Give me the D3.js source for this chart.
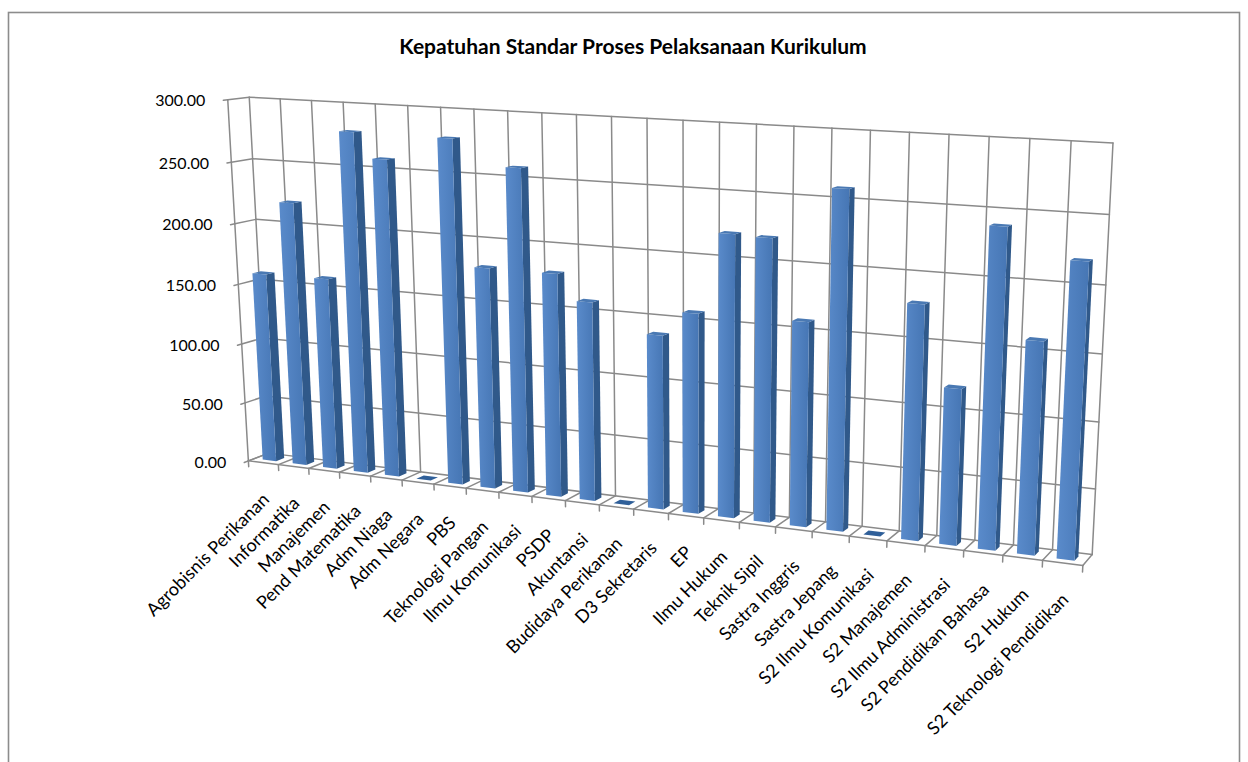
<!DOCTYPE html>
<html>
<head>
<meta charset="utf-8">
<script src="https://cdn.jsdelivr.net/npm/d3@7"></script>
<style>
  html, body { margin: 0; padding: 0; background: #fff; }
  svg { display: block; }
  text { font-family: Lato, "Open Sans", "DejaVu Sans", sans-serif; fill: #000; }
</style>
</head>
<body>
<svg id="chart" width="1248" height="762"></svg>
<script>
// ---- data -----------------------------------------------------------------
const title = "Kepatuhan Standar Proses Pelaksanaan Kurikulum";

const categories = [
  "Agrobisnis Perikanan", "Informatika", "Manajemen", "Pend Matematika",
  "Adm Niaga", "Adm Negara", "PBS", "Teknologi Pangan", "Ilmu Komunikasi",
  "PSDP", "Akuntansi", "Budidaya Perikanan", "D3 Sekretaris", "EP",
  "Ilmu Hukum", "Teknik Sipil", "Sastra Inggris", "Sastra Jepang",
  "S2 Ilmu Komunikasi", "S2 Manajemen", "S2 Ilmu Administrasi",
  "S2 Pendidikan Bahasa", "S2 Hukum", "S2 Teknologi Pendidikan"
];

const values = [
  158.5, 219, 159, 279, 259, 0, 278.5, 179, 259,
  179, 159, 0, 138, 157.5, 220, 219, 158.5, 259,
  0, 179, 119, 239.5, 159.5, 219
];

const valueTicks = [0, 50, 100, 150, 200, 250, 300];
const tickFormat = d3.format(".2f");

// ---- camera ---------------------------------------------------------------
// The plot box is the unit cube (x: categories, y: value, z: front -> back).
// A perspective camera is calibrated from where the box corners sit on the page.
const boxCorners = [
  { w: [0, 1, 0], s: [228, 100] },
  { w: [0, 1, 1], s: [249, 97] },
  { w: [1, 1, 1], s: [1113, 143] },
  { w: [0, 0, 0], s: [248, 461] },
  { w: [0, 0, 1], s: [269, 453] },
  { w: [1, 0, 1], s: [1092, 555] },
  { w: [1, 0, 0], s: [1083, 565] }
];

function solveLinear(A, b) {
  const n = b.length;
  const M = A.map((row, i) => row.concat([b[i]]));
  for (let c = 0; c < n; c++) {
    let piv = c;
    for (let r = c + 1; r < n; r++) if (Math.abs(M[r][c]) > Math.abs(M[piv][c])) piv = r;
    [M[c], M[piv]] = [M[piv], M[c]];
    for (let r = 0; r < n; r++) {
      if (r === c) continue;
      const f = M[r][c] / M[c][c];
      for (let k = c; k <= n; k++) M[r][k] -= f * M[c][k];
    }
  }
  return M.map((row, i) => row[n] / row[i]);
}

function calibrate(points) {
  const cx = 640, cy = 380, k = 500;
  const rows = [], rhs = [];
  points.forEach(({ w: [X, Y, Z], s: [su, sv] }) => {
    const u = (su - cx) / k, v = (sv - cy) / k;
    rows.push([X, Y, Z, 1, 0, 0, 0, 0, -u * X, -u * Y, -u * Z]); rhs.push(u);
    rows.push([0, 0, 0, 0, X, Y, Z, 1, -v * X, -v * Y, -v * Z]); rhs.push(v);
  });
  const m = 11;
  const N = Array.from({ length: m }, () => new Array(m).fill(0));
  const r = new Array(m).fill(0);
  rows.forEach((row, i) => {
    for (let a = 0; a < m; a++) {
      r[a] += row[a] * rhs[i];
      for (let c = 0; c < m; c++) N[a][c] += row[a] * row[c];
    }
  });
  const p = solveLinear(N, r);
  return (X, Y, Z) => {
    const w = p[8] * X + p[9] * Y + p[10] * Z + 1;
    return [
      (p[0] * X + p[1] * Y + p[2] * Z + p[3]) / w * k + cx,
      (p[4] * X + p[5] * Y + p[6] * Z + p[7]) / w * k + cy
    ];
  };
}

const camera = calibrate(boxCorners);

// ---- scales ---------------------------------------------------------------
const x = d3.scaleLinear().domain([0, categories.length]).range([0, 1]);
const band = d3.scaleBand().domain(categories).range([0, 1])
  .paddingInner(0.55).paddingOuter(0.275);
const y = d3.scaleLinear().domain([0, 300]).range([0, 1]);
const barDepth = [0.3, 0.7];

const pt = (xw, v, z) => camera(xw, y(v), z);
const poly = pts => "M" + pts.map(p => p[0].toFixed(2) + "," + p[1].toFixed(2)).join("L") + "Z";
const seg = (a, b) => "M" + a[0].toFixed(2) + "," + a[1].toFixed(2) + "L" + b[0].toFixed(2) + "," + b[1].toFixed(2);

// ---- drawing --------------------------------------------------------------
const svg = d3.select("#chart");

const defs = svg.append("defs");
const grad = defs.append("linearGradient").attr("id", "frontFace")
  .attr("x1", "0").attr("y1", "0").attr("x2", "1").attr("y2", "0");
grad.append("stop").attr("offset", "0").attr("stop-color", "#5a8bcb");
grad.append("stop").attr("offset", "1").attr("stop-color", "#4676b4");

// chart frame
svg.append("rect")
  .attr("x", 8.5).attr("y", 12.5).attr("width", 1231).attr("height", 800)
  .attr("fill", "#fff").attr("stroke", "#8c8c8c").attr("stroke-width", 1.6);

svg.append("text")
  .attr("x", 633).attr("y", 54)
  .attr("text-anchor", "middle")
  .attr("font-size", 21).attr("font-weight", "bold")
  .text(title);

const grid = svg.append("g")
  .attr("fill", "none").attr("stroke", "#8a8a8a").attr("stroke-width", 1.5)
  .attr("stroke-linecap", "round");

const boundaries = d3.range(categories.length + 1);

// back wall: value gridlines and category gridlines
grid.selectAll(".back-h").data(valueTicks).join("path")
  .attr("d", v => seg(pt(0, v, 1), pt(1, v, 1)));
grid.selectAll(".back-v").data(boundaries).join("path")
  .attr("d", k => seg(pt(x(k), 0, 1), pt(x(k), 300, 1)));
// side wall
grid.selectAll(".side-h").data(valueTicks).join("path")
  .attr("d", v => seg(pt(0, v, 0), pt(0, v, 1)));
grid.append("path").attr("d", seg(pt(0, 0, 0), pt(0, 300, 0)));
// floor
grid.selectAll(".floor-d").data(boundaries).join("path")
  .attr("d", k => seg(pt(x(k), 0, 0), pt(x(k), 0, 1)));
grid.append("path").attr("d", seg(pt(0, 0, 0), pt(1, 0, 0)));
// ticks
grid.selectAll(".vtick").data(valueTicks).join("path")
  .attr("d", v => seg(pt(0, v, 0), pt(0, v, -0.2)));
grid.selectAll(".ctick").data(boundaries).join("path")
  .attr("d", k => seg(pt(x(k), 0, 0), pt(x(k), -5, 0)));

// bars
const bars = svg.append("g").selectAll("g")
  .data(categories.map((c, i) => ({ c, v: values[i] })))
  .join("g");

bars.each(function (d) {
  const g = d3.select(this);
  const x0 = band(d.c), x1 = x0 + band.bandwidth();
  const [z0, z1] = barDepth;
  if (d.v > 0) {
    g.append("path")
      .attr("d", poly([pt(x1, 0, z0), pt(x1, 0, z1), pt(x1, d.v, z1), pt(x1, d.v, z0)]))
      .attr("fill", "#30598a");
    g.append("path")
      .attr("d", poly([pt(x0, 0, z0), pt(x1, 0, z0), pt(x1, d.v, z0), pt(x0, d.v, z0)]))
      .attr("fill", "url(#frontFace)");
    g.append("path")
      .attr("d", poly([pt(x0, d.v, z0), pt(x1, d.v, z0), pt(x1, d.v, z1), pt(x0, d.v, z1)]))
      .attr("fill", "#4a79b3");
  } else {
    g.append("path")
      .attr("d", poly([pt(x0, 0, z0), pt(x1, 0, z0), pt(x1, 0, z1), pt(x0, 0, z1)]))
      .attr("fill", "#2f5f99");
  }
});

// value axis labels
svg.append("g").selectAll("text").data(valueTicks).join("text")
  .attr("x", v => pt(0, v, -0.2)[0] - 18)
  .attr("y", v => pt(0, v, -0.2)[1])
  .attr("dy", "0.35em")
  .attr("text-anchor", "end")
  .attr("font-size", 16)
  .text(tickFormat);

// category labels
svg.append("g").selectAll("text").data(categories).join("text")
  .attr("transform", c => {
    const p = pt(band(c) + band.bandwidth() / 2, 0, 0);
    return `translate(${p[0] + 7},${p[1] + 38}) rotate(-45)`;
  })
  .attr("text-anchor", "end")
  .attr("font-size", 18)
  .text(c => c);
</script>
</body>
</html>
